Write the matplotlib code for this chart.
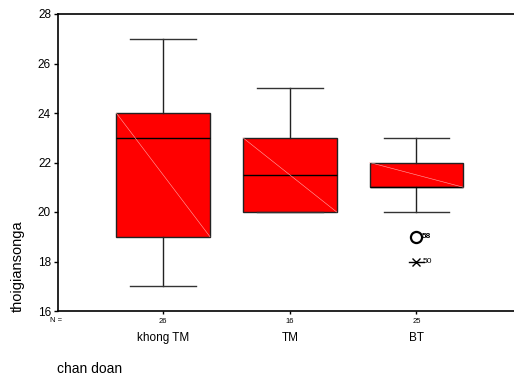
import matplotlib
matplotlib.use("Agg")
import matplotlib.pyplot as plt

plt.rcParams['font.family'] = ['Liberation Sans', 'DejaVu Sans']

groups = ["khong TM", "TM", "BT"]
counts = [26, 16, 25]
q1 = [19, 20, 21]
med = [23, 21.5, 21]
q3 = [24, 23, 22]
whislo = [17, 20, 20]
whishi = [27, 25, 23]
# outliers: (group index, value, case label, marker)
outliers = [(2, 19, "58", "o"), (2, 18, "50", "x")]

fig = plt.figure(figsize=(5.14, 3.78), dpi=100)
ax = fig.add_axes([58 / 514, 1 - 311 / 378, 1 - 58 / 514, 297 / 378])

stats = []
for i, g in enumerate(groups):
    stats.append(dict(label=g, q1=q1[i], med=med[i], q3=q3[i],
                      whislo=whislo[i], whishi=whishi[i], fliers=[]))
pos = [1, 2, 3]
bp = ax.bxp(stats, positions=pos, widths=0.74, patch_artist=True,
            showfliers=False,
            boxprops=dict(facecolor='#ff0000', edgecolor='#222222', linewidth=1.0),
            medianprops=dict(color='black', linewidth=1.0),
            whiskerprops=dict(color='#222222', linewidth=1.0),
            capprops=dict(color='#333333', linewidth=1.0))
for c in bp['caps']:
    x0, x1 = c.get_xdata()
    m = (x0 + x1) / 2
    c.set_xdata([m - 0.26, m + 0.26])

# thin diagonal line inside each box
for i, p in enumerate(pos):
    ax.plot([p - 0.37, p + 0.37], [q3[i], q1[i]], color='#ffaaaa', lw=0.4, zorder=3)

for gi, v, lab, mk in outliers:
    if mk == "o":
        ax.plot(pos[gi], v, marker='o', ms=8, mfc='none', mec='black', mew=1.6)
        ax.text(pos[gi] + 0.04, v, lab, fontsize=6, va='center', ha='left',
                fontweight='bold')
    else:
        ax.plot(pos[gi], v, marker='x', ms=6, color='black', mew=1.0)
        ax.plot([pos[gi] - 0.06, pos[gi] + 0.06], [v, v], color='black', lw=1.0)
        ax.text(pos[gi] + 0.05, v, lab, fontsize=6, va='center', ha='left')

ax.set_xlim(0.17, 3.77)
ax.set_ylim(16, 28)
ax.set_yticks([16, 18, 20, 22, 24, 26, 28])
ax.tick_params(axis='y', labelsize=8.5, length=3, width=1, pad=2)
ax.set_xticks(pos)
ax.set_xticklabels([str(n) for n in counts], fontsize=5.5)
ax.tick_params(axis='x', length=2, width=1, pad=3)
ax.spines['right'].set_visible(False)
for s in ['left', 'bottom', 'top']:
    ax.spines[s].set_linewidth(1.2)

fig.text(50 / 514, 1 - 321 / 378, "N =", fontsize=5.5, va='center', ha='left')
for p, g in zip(pos, groups):
    xd = ax.transData.transform((p, 16))[0] / 514
    fig.text(xd, 1 - 338 / 378, g, fontsize=8.5, ha='center', va='center')
fig.text(57 / 514, 1 - 369 / 378, "chan doan", fontsize=10, ha='left', va='center')
fig.text(18 / 514, 1 - 312 / 378, "thoigiansonga", fontsize=10.5, rotation=90,
         ha='center', va='bottom')

fig.savefig("out.png", dpi=100)
